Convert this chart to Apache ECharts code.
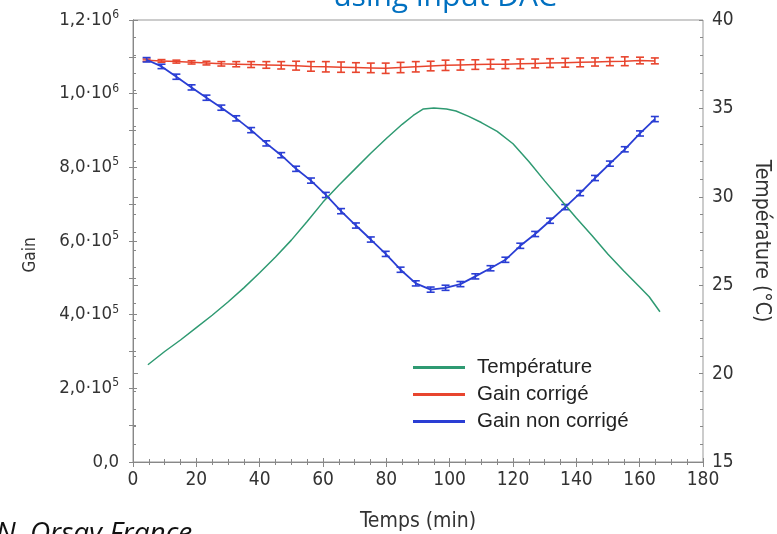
<!DOCTYPE html>
<html>
<head>
<meta charset="utf-8">
<title>Gain vs temperature</title>
<script src="https://cdn.jsdelivr.net/npm/echarts@6/dist/echarts.min.js"></script>
<style>
html, body {margin: 0; padding: 0; background: #fff;}
#chart {width: 777px; height: 534px;}
</style>
</head>
<body>
<div id="chart"></div>
<script>
// temps des mesures de gain (min)
var gainTimes = [4.3, 9.0, 13.7, 18.5, 23.2, 27.9, 32.6, 37.3, 42.1, 46.8,
	51.5, 56.2, 60.9, 65.7, 70.4, 75.1, 79.8, 84.5, 89.3, 94.0,
	98.7, 103.4, 108.1, 112.9, 117.6, 122.3, 127.0, 131.7, 136.5, 141.2,
	145.9, 150.6, 155.3, 160.1, 164.8];

// gain corrigé et son erreur
var gainCorr = [1091000, 1089000, 1087000, 1085000, 1083000, 1081000, 1080000, 1079000, 1078000, 1077000,
	1076000, 1074000, 1073000, 1072000, 1071000, 1070000, 1069000, 1071000, 1073000, 1075000,
	1077000, 1078000, 1079000, 1080000, 1080000, 1081000, 1082000, 1083000, 1084000, 1085000,
	1086000, 1087000, 1088000, 1090000, 1089000];
var gainCorrErr = [3000, 3500, 4000, 4500, 5000, 6000, 7000, 8000, 9000, 10000,
	12000, 13000, 14000, 14000, 13000, 13000, 14000, 14000, 14000, 13000,
	14000, 14000, 13000, 13000, 12000, 13000, 12000, 12000, 12000, 12000,
	11000, 11000, 12000, 9000, 8000];

// gain non corrigé et son erreur
var gainRaw = [1092000, 1074000, 1046000, 1017000, 989000, 962000, 933000, 901000, 865000, 833000,
	796000, 764000, 725000, 681000, 642000, 604000, 565000, 522000, 485000, 468000,
	473000, 483000, 504000, 526000, 549000, 587000, 619000, 655000, 692000, 730000,
	771000, 810000, 849000, 892000, 931000];
var gainRawErr = [6000, 6000, 7000, 7000, 7000, 7000, 7000, 7000, 7000, 7000,
	7000, 7000, 7000, 7000, 7000, 7000, 7000, 7000, 7000, 7000,
	7000, 7000, 7000, 7000, 7000, 7000, 7000, 7000, 7000, 7000,
	7000, 7000, 7000, 7000, 7000];

// température (°C)
var tempTimes = [4.7, 10, 15, 20, 25, 30, 35, 40, 45, 50,
	55, 60, 65, 70, 75, 80, 85, 88.5, 91.7, 95,
	99, 102, 106, 110, 115, 120, 125, 130, 135, 140,
	145, 150, 155, 160, 163, 166.4];
var tempValues = [20.5, 21.25, 21.9, 22.6, 23.3, 24.05, 24.85, 25.7, 26.6, 27.55,
	28.6, 29.7, 30.65, 31.55, 32.45, 33.3, 34.1, 34.6, 34.97, 35.02,
	34.97, 34.85, 34.55, 34.2, 33.7, 33.0, 32.0, 30.9, 29.85, 28.8,
	27.8, 26.75, 25.8, 24.9, 24.35, 23.5];

// graduations de l'axe gauche
var gainTickLabels = {0: '0,0', 200000: '2,0·10|5', 400000: '4,0·10|5', 600000: '6,0·10|5',
	800000: '8,0·10|5', 1000000: '1,0·10|6', 1200000: '1,2·10|6'};

var axisFont = '"DejaVu Sans Condensed", "Liberation Sans Narrow", "DejaVu Sans", sans-serif';
var green = '#2f9a72', red = '#e8452e', blue = '#2a3ed4';
var axisGray = '#888';

function pairs(xs, ys){
	var arr = [];
	for (var i = 0; i < xs.length; i++) {
		arr.push([xs[i], ys[i]]);
	}
	return arr;
}

function errData(xs, ys, es){
	var arr = [];
	for (var i = 0; i < xs.length; i++) {
		arr.push([xs[i], ys[i] - es[i], ys[i] + es[i]]);
	}
	return arr;
}

// barres d'erreur avec api.coord
function renderErr(params, api){
	var top = api.coord([api.value(0), api.value(2)]);
	var bot = api.coord([api.value(0), api.value(1)]);
	var w = 4;
	var style = {stroke: api.visual('color'), lineWidth: 1.6};
	return {
		type: 'group',
		children: [
			{type: 'line', shape: {x1: top[0], y1: top[1], x2: bot[0], y2: bot[1]}, style: style},
			{type: 'line', shape: {x1: top[0] - w, y1: top[1], x2: top[0] + w, y2: top[1]}, style: style},
			{type: 'line', shape: {x1: bot[0] - w, y1: bot[1], x2: bot[0] + w, y2: bot[1]}, style: style}
		]
	};
}

// axe vide pour les graduations vers l'intérieur (les graduations traversent l'axe)
function innerTicks(base, pos, split){
	base.position = pos;
	base.axisLine = {show: false};
	base.axisLabel = {show: false};
	base.splitLine = {show: false};
	base.axisTick = {show: true, inside: true, length: 4, lineStyle: {color: axisGray}};
	base.minorTick = {show: true, splitNumber: split, length: 3, lineStyle: {color: axisGray}};
	return base;
}

var option = {
	animation: false,
	backgroundColor: '#fff',
	grid: {left: 133, right: 74, top: 20, bottom: 72, show: true, borderColor: '#999', borderWidth: 1, outerBoundsMode: 'none'},
	legend: {
		orient: 'vertical', left: 408, top: 352,
		itemWidth: 52, itemHeight: 3, itemGap: 6,
		icon: 'rect',
		data: ['Température', 'Gain corrigé', 'Gain non corrigé'],
		textStyle: {fontFamily: '"Liberation Sans", Arial, sans-serif', fontSize: 20.5, lineHeight: 20, color: '#222', padding: [0, 0, 0, 7]}
	},
	xAxis: [
		{
			type: 'value', min: 0, max: 180, interval: 20, position: 'bottom',
			name: 'Temps (min)', nameLocation: 'middle', nameGap: 49,
			nameTextStyle: {fontFamily: axisFont, fontSize: 21, color: '#333'},
			axisLine: {lineStyle: {color: axisGray}},
			axisTick: {length: 5, lineStyle: {color: axisGray}},
			minorTick: {show: true, splitNumber: 4, length: 3, lineStyle: {color: axisGray}},
			splitLine: {show: false},
			axisLabel: {fontFamily: axisFont, fontSize: 19, color: '#333', margin: 9}
		},
		innerTicks({type: 'value', min: 0, max: 180, interval: 20}, 'bottom', 4)
	],
	yAxis: [
		{
			type: 'value', min: 0, max: 1200000, interval: 200000, position: 'left',
			name: 'Gain', nameLocation: 'middle', nameGap: 94, nameRotate: 90,
			nameTextStyle: {fontFamily: axisFont, fontSize: 17, color: '#333', padding: [0, 28, 0, 0]},
			axisLine: {show: true, lineStyle: {color: axisGray}},
			axisTick: {show: true, length: 4, lineStyle: {color: axisGray}},
			minorTick: {show: true, splitNumber: 2, length: 4, lineStyle: {color: axisGray}},
			splitLine: {show: false},
			axisLabel: {
				margin: 14,
				formatter: function(v){
					var s = gainTickLabels[v];
					if (s.indexOf('|') < 0) return '{a|' + s + '}';
					var p = s.split('|');
					return '{a|' + p[0] + '}{s|' + p[1] + '}';
				},
				rich: {
					a: {fontFamily: axisFont, fontSize: 18.5, color: '#333', lineHeight: 22},
					s: {fontFamily: axisFont, fontSize: 12, color: '#333', verticalAlign: 'top', lineHeight: 12}
				}
			}
		},
		{
			type: 'value', min: 15, max: 40, interval: 5, position: 'right',
			name: 'Température (°C)', nameLocation: 'middle', nameGap: 48, nameRotate: -90,
			nameTextStyle: {fontFamily: axisFont, fontSize: 21, color: '#333'},
			axisLine: {show: true, lineStyle: {color: axisGray}},
			axisTick: {show: true, length: 5, lineStyle: {color: axisGray}},
			minorTick: {show: true, splitNumber: 5, length: 3, lineStyle: {color: axisGray}},
			splitLine: {show: false},
			axisLabel: {fontFamily: axisFont, fontSize: 19, color: '#333', margin: 9}
		},
		innerTicks({type: 'value', min: 0, max: 1200000, interval: 200000}, 'left', 2),
		innerTicks({type: 'value', min: 15, max: 40, interval: 5}, 'right', 5)
	],
	series: [
		{
			name: 'Température', type: 'line', yAxisIndex: 1,
			data: pairs(tempTimes, tempValues),
			showSymbol: false, color: green,
			lineStyle: {color: green, width: 1.5}
		},
		{
			name: 'Gain corrigé', type: 'line', yAxisIndex: 0,
			data: pairs(gainTimes, gainCorr),
			showSymbol: false, color: red,
			lineStyle: {color: red, width: 1.5}
		},
		{
			name: 'errCorr', type: 'custom', yAxisIndex: 0,
			renderItem: renderErr, itemStyle: {color: red},
			encode: {x: 0, y: [1, 2]},
			data: errData(gainTimes, gainCorr, gainCorrErr)
		},
		{
			name: 'Gain non corrigé', type: 'line', yAxisIndex: 0,
			data: pairs(gainTimes, gainRaw),
			showSymbol: false, color: blue,
			lineStyle: {color: blue, width: 1.8}
		},
		{
			name: 'errRaw', type: 'custom', yAxisIndex: 0,
			renderItem: renderErr, itemStyle: {color: blue},
			encode: {x: 0, y: [1, 2]},
			data: errData(gainTimes, gainRaw, gainRawErr)
		}
	],
	graphic: [
		{type: 'text', x: 445, y: 12, style: {text: 'using input DAC', fill: '#0070c0', font: '30px "Open Sans", "Noto Sans", sans-serif', textAlign: 'center', textVerticalAlign: 'bottom'}},
		{type: 'text', x: -4, y: 520, style: {text: 'N, Orsay France', fill: '#111', font: 'italic 28px "Open Sans", "Noto Sans", sans-serif', textAlign: 'left', textVerticalAlign: 'top'}}
	]
};

var myChart = echarts.init(document.getElementById('chart'));
myChart.setOption(option);//加载图表
</script>
</body>
</html>
